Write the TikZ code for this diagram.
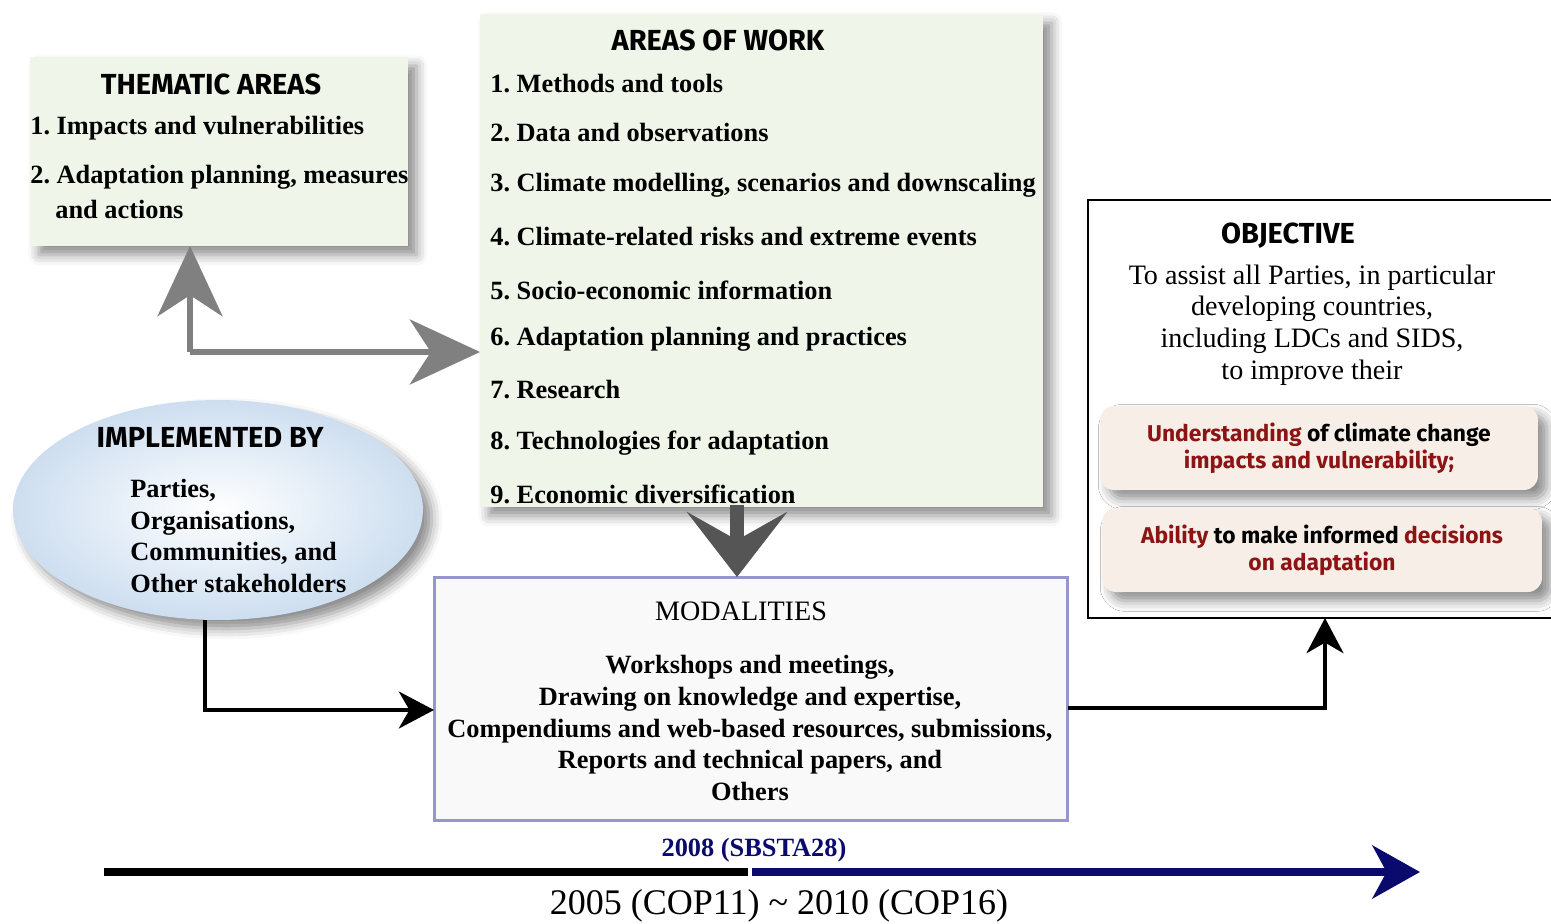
\documentclass[tikz,border=0pt]{standalone}
\usepackage{fontspec}
\setmainfont{Liberation Serif}
\newfontfamily\headfont{Fira Sans}
\usetikzlibrary{arrows.meta,shapes.geometric,shadows.blur}
\definecolor{areagreen}{RGB}{239,245,233}
\definecolor{ovalblue}{RGB}{205,222,240}
\definecolor{modframe}{RGB}{150,150,205}
\definecolor{modfill}{RGB}{249,249,249}
\definecolor{objpink}{RGB}{247,239,231}
\definecolor{objred}{RGB}{140,20,20}
\definecolor{timenavy}{RGB}{10,10,110}
\definecolor{arrowgray}{RGB}{128,128,128}
\definecolor{downgray}{RGB}{85,85,85}
\frenchspacing

\begin{document}
\begin{tikzpicture}[x=0.02cm,y=-0.02cm,
  softshadow/.style={blur shadow={shadow xshift=5pt,shadow yshift=-5pt,shadow blur radius=6pt,shadow opacity=45}},
  panel/.style={fill=areagreen,inner sep=0pt,outer sep=0pt,softshadow},
  head/.style={font=\headfont\bfseries\fontsize{16.5}{18}\selectfont},
  item/.style={anchor=west,inner sep=0pt,font=\bfseries\fontsize{15}{18}\selectfont},
  grayarrow/.style={draw=arrowgray,line width=3.4pt,-{Stealth[length=40pt,width=37pt,inset=12pt]}},
  blackarrow/.style={draw=black,line width=2.3pt,-{Stealth[length=20pt,width=21pt,inset=6pt]}},
  goalbox/.style={fill=objpink,rounded corners=8pt,inner sep=0pt,outer sep=0pt,softshadow,align=center,
    font=\headfont\bfseries\fontsize{13}{15.3}\selectfont}]
\useasboundingbox (0,0) rectangle (1551,923);

% thematic areas
\node(thematic) [panel,minimum width=7.56cm,minimum height=3.78cm] at (219,151.5) {};
\node(thematictitle) [head] at (211,84) {THEMATIC AREAS};
\node(thematicone) [item] at (30,128) {1. Impacts and vulnerabilities};
\node(thematictwo) [item] at (30,177) {2. Adaptation planning, measures};
\node(thematictwob) [item] at (55,209) {and actions};

% areas of work
\node(areas) [panel,minimum width=11.26cm,minimum height=9.86cm] at (761.5,260.5) {};
\node(areastitle) [head] at (718,40) {AREAS OF WORK};
\node(workone) [item] at (490,84) {1. Methods and tools};
\node(worktwo) [item] at (490,133) {2. Data and observations};
\node(workthree) [item] at (490,185) {3. Climate modelling, scenarios and downscaling};
\node(workfour) [item] at (490,237) {4. Climate-related risks and extreme events};
\node(workfive) [item] at (490,290) {5. Socio-economic information};
\node(worksix) [item] at (490,339) {6. Adaptation planning and practices};
\node(workseven) [item] at (490,390) {7. Research};
\node(workeight) [item] at (490,443) {8. Technologies for adaptation};
\node(worknine) [item] at (490,494) {9. Economic diversification};

% implemented by
\node(implemented) [ellipse,inner sep=0pt,minimum width=8.2cm,minimum height=4.4cm,
  inner color=white,outer color=ovalblue,softshadow] at (218,510) {};
\node(implementedtitle) [head] at (210,437) {IMPLEMENTED BY};
\node(implementers) [item,align=left,font=\bfseries\fontsize{15}{18}\selectfont] at (130,536)
  {Parties,\\Organisations,\\Communities, and\\Other stakeholders};

% modalities
\node(modalities) [draw=modframe,line width=1.7pt,fill=modfill,inner sep=0pt,outer sep=0pt,
  minimum width=12.68cm,minimum height=4.88cm] at (751,699) {};
\node(modalitiestitle) [font=\fontsize{16}{18}\selectfont] at (741,611) {MODALITIES};
\node(modalitylist) [align=center,font=\bfseries\fontsize{15}{18}\selectfont] at (750,728)
  {Workshops and meetings,\\Drawing on knowledge and expertise,\\Compendiums and web-based resources, submissions,\\Reports and technical papers, and\\Others};

% objective
\node(objective) [draw=black,line width=0.9pt,fill=white,inner sep=0pt,outer sep=0pt,
  minimum width=9.44cm,minimum height=8.36cm] at (1324,409) {};
\node(objectivetitle) [head] at (1288,236) {OBJECTIVE};
\node(objectivetext) [align=center,font=\fontsize{16}{18}\selectfont] at (1312,325)
  {To assist all Parties, in particular\\developing countries,\\including LDCs and SIDS,\\to improve their};
\node(understanding) [goalbox,minimum width=8.76cm,minimum height=1.68cm] at (1319,448)
  {\textcolor{objred}{Understanding} of climate change\\\textcolor{objred}{impacts and vulnerability;}};
\node(ability) [goalbox,minimum width=8.8cm,minimum height=1.68cm] at (1322,550)
  {\textcolor{objred}{Ability} to make informed \textcolor{objred}{decisions}\\\textcolor{objred}{on adaptation}};

% connectors
\coordinate(thematicfoot) at (190,352);
\draw[grayarrow] (thematicfoot) -- (thematicfoot |- thematic.south);
\draw[grayarrow] (thematicfoot) -- (thematicfoot -| areas.west);
\coordinate(worktap) at (737,505);
\draw[downgray,line width=8pt,-{Stealth[length=37pt,width=57pt,inset=16pt]}] (worktap) -- (worktap |- modalities.north);
\coordinate(implfoot) at (205,620);
\coordinate(modin) at (434,710);
\draw[blackarrow] (implfoot) |- (modin);
\coordinate(modout) at (1068,708);
\coordinate(objin) at (1325,618);
\draw[blackarrow] (modout) -| (objin);

% timeline
\coordinate(tlstart) at (104,872);
\coordinate(tlmid) at (748,872);
\coordinate(tlnavy) at (752,872);
\coordinate(tlend) at (1420,872);
\draw[line width=4.5pt] (tlstart) -- (tlmid);
\draw[timenavy,line width=4.5pt,-{Stealth[length=27pt,width=30pt,inset=8pt]}] (tlnavy) -- (tlend);
\node(midyear) [text=timenavy,font=\bfseries\fontsize{15}{18}\selectfont] at (754,850) {2008 (SBSTA28)};
\node(period) [font=\fontsize{20.5}{22}\selectfont] at (779,906) {2005 (COP11) \textasciitilde{} 2010 (COP16)};
\end{tikzpicture}
\end{document}
